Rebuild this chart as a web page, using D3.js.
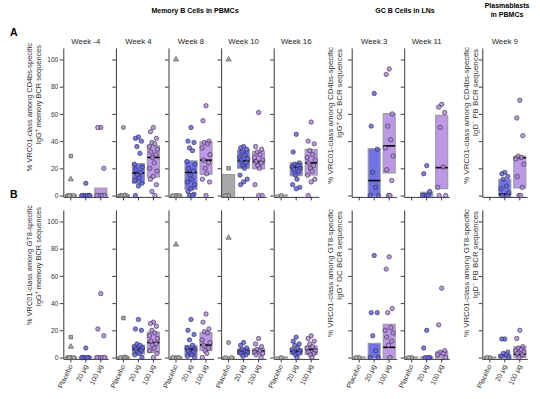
<!DOCTYPE html>
<html>
<head>
<meta charset="utf-8">
<script src="https://cdn.jsdelivr.net/npm/d3@7"></script>
<style>
body{margin:0;background:#fff}
svg{font-family:"Liberation Sans",Arial,sans-serif}
</style>
</head>
<body>
<div class="chart"></div>
<script>
// categories
const groups = ["Placebo", "20 μg", "100 μg"];
const weeks = ["Week -4", "Week 4", "Week 8", "Week 10", "Week 16", "Week 3", "Week 11", "Week 9"];
const yTicks = [0, 20, 40, 60, 80, 100];

// A: CD4bs-specific, one entry per panel (week)
const cd4bsPlaceboDot = [[0,0,0,0],[50,0,0],[0,0],[0,0],[0],[],[],[]];
const cd4bsPlaceboSq  = [[29],[0],[0],[20],[],[],[],[]];
const cd4bsPlaceboTri = [[12],[0],[100],[100],[],[],[],[]];
const cd4bs20 = [
  [9,0,0,0,0,0,0],
  [43,42,40,36,31,23,21,19,17,15,13,11,9,7,0],
  [50,40,39,35,33,25,23,20,18,15,12,10,8,5,3,1,0,0],
  [36,35,34,32,30,28,27,26,24,22,20,15,12,10,8],
  [45,32,24,23,22,21,20,19,18,15,12,8,6,5],
  [75,51,34,17,6,0,0],
  [22,16,3,0,0,0],
  [17,16,14,12,7,5,2,0,0]
];
const cd4bs100 = [
  [50,50,20,0,0,0,0],
  [50,47,42,39,38,36,34,32,30,28,24,20,18,14,12,8,3,0],
  [66,55,40,39,38,35,30,26,24,20,16,12,10,0],
  [61,36,34,32,30,28,26,25,24,22,20,8,0,0],
  [54,40,38,33,30,28,26,24,22,20,18,15,12,10,0],
  [93,89,60,51,41,35,29,19,11,0,0],
  [67,65,61,50,21,6,0,0],
  [70,57,44,29,28,27,23,14,6,0,0]
];
// [q1, median, q3] for placebo, 20 μg, 100 μg
const cd4bsBox = [
  [[0,0,0],[0,0,0],[0,0,5]],
  [[0,0,0],[9.5,16.5,23],[14,28,36]],
  [[0,0,0],[5,17,25],[16,26,39]],
  [[0,0,15],[20.5,25.5,33],[20,25,32]],
  [[0,0,0],[15,21,23.5],[15.5,24,33.5]],
  [null,[0,11,34],[17,36.5,59.7]],
  [null,[0,0,2],[5.5,20.5,58.5]],
  [null,[0,1,11.5],[6,27.8,28.5]]
];

// B: GT8-specific
const gt8PlaceboDot = [[0,0,0,0],[0,0,0],[0,0,0],[11,0,0],[0],[0,0],[0,0],[0,0]];
const gt8PlaceboSq  = [[15],[29],[],[],[],[],[],[]];
const gt8PlaceboTri = [[8],[0],[83],[88],[],[],[],[]];
const gt820 = [
  [7,0,0,0,0,0],
  [28,21,20,10,9,8,7,6,5,4,3,2,0],
  [28,20,17,13,9,7,6,5,4,3,2,1,0],
  [11,9,7,6,5,4,4,3,2,1],
  [15,12,10,9,7,6,5,4,3,2,0],
  [75,33,33,16,5,0,0],
  [20,7,0,0,0],
  [13.6,13.6,4,3,2,1,0]
];
const gt8100 = [
  [47,21,16,0,0,0,0],
  [26,25,23,20,18,16,14,12,10,9,7,5,3,0],
  [32,26,21,19,18,13,11,9,7,5,3,0],
  [14,10,8,6,5,4,3,2,0],
  [16,14,12,10,8,7,5,4,3,2,0],
  [74,65,36,33,22,20,18,15,12,9,0],
  [51,24,5,4,3,2,0],
  [20,14,8,7,6,5,4,3,2,0]
];
const gt8Box = [
  [[0,0,0],[0,0,0],[0,0,0]],
  [[0,0,0],[3,6,8.7],[4.3,11,18.2]],
  [[0,0,0],[1.8,6,8.5],[5.5,9.2,17.8]],
  [[0,0,0],[2.6,4.8,6],[2.6,4.9,6]],
  [[0,0,0],[2.6,4.5,6],[2.6,6,8]],
  [[0,0,0],[0,0,10],[0,7.5,24]],
  [[0,0,0],[0,0,0],[0,0,3.8]],
  [[0,0,0],[0,0.5,1.8],[0.5,2.4,7.5]]
];

const W = 540, H = 399;
const svg = d3.select(".chart").append("svg")
    .attr("width", W)
    .attr("height", H);

const panelLeft = [0,1,2,3,4].map(i => 63.3 + i * 52.6).concat([351.7, 404.2, 482.3]);
const panelW = 45;
const boxW = 12;
const ptFill = ["#a9a9a9", "#6464f0", "#b488e8"];
const boxFill = ["#a9a9a9", "#7272e8", "#bc98e6"];
const jit = [0, -3, 3, -1.5, 1.5, -4, 4, -2.5, 2.5, -0.8, 0.8, -3.6, 3.6];

const rows = [
  {off: 0, letter: "A", spec: "CD4bs", dot: cd4bsPlaceboDot, sq: cd4bsPlaceboSq, tri: cd4bsPlaceboTri,
   g20: cd4bs20, g100: cd4bs100, box: cd4bsBox, ticks: false},
  {off: 162, letter: "B", spec: "GT8", dot: gt8PlaceboDot, sq: gt8PlaceboSq, tri: gt8PlaceboTri,
   g20: gt820, g100: gt8100, box: gt8Box, ticks: true}
];

// header titles
svg.append("text").attr("x", 195).attr("y", 13).attr("text-anchor", "middle")
    .attr("font-size", 7).attr("font-weight", "bold").text("Memory B Cells in PBMCs");
svg.append("text").attr("x", 405).attr("y", 13).attr("text-anchor", "middle")
    .attr("font-size", 7).attr("font-weight", "bold").text("GC B Cells in LNs");
svg.append("text").attr("x", 507).attr("y", 8).attr("text-anchor", "middle")
    .attr("font-size", 7).attr("font-weight", "bold").text("Plasmablasts");
svg.append("text").attr("x", 507).attr("y", 17).attr("text-anchor", "middle")
    .attr("font-size", 7).attr("font-weight", "bold").text("in PBMCs");

weeks.forEach(function (w, p) {
    svg.append("text")
        .attr("x", panelLeft[p] + panelW / 2)
        .attr("y", 43.5)
        .attr("text-anchor", "middle")
        .attr("font-size", 7.8)
        .attr("fill", "#222")
        .text(w);
});

rows.forEach(function (row) {
    let g = svg.append("g");
    let y = d3.scaleLinear().domain([-1, 108.5]).range([196.9 + row.off, 47.9 + row.off]);

    g.append("text").attr("x", 10).attr("y", 36 + row.off)
        .attr("font-size", 10.5).attr("font-weight", "bold").text(row.letter);

    // y labels: [baseline x, top y, cell type, font size]
    let labs = [
        [31.5, 43, "memory", 7.4], [332.5, 47, "GC", 7.9], [468.5, 47, "PB", 7.9]
    ];
    labs.forEach(function (l) {
        let cell = l[2] === "PB" ? "IgD" : "IgG";
        let sup = l[2] === "PB" ? "\u2212" : "+";
        g.append("text")
            .attr("transform", "translate(" + l[0] + "," + (l[1] + row.off) + ") rotate(-90)")
            .attr("text-anchor", "end")
            .attr("font-size", l[3])
            .attr("fill", "#333")
            .text("% VRC01-class among " + row.spec + "-specific");
        let t2 = g.append("text")
            .attr("transform", "translate(" + (l[0] + 9.5) + "," + (l[1] + 2 + row.off) + ") rotate(-90)")
            .attr("text-anchor", "end")
            .attr("font-size", l[3])
            .attr("fill", "#333");
        t2.append("tspan").text(cell);
        t2.append("tspan").attr("dy", -2.6).attr("font-size", 5.2).text(sup);
        t2.append("tspan").attr("dy", 2.6).text(" " + l[2] + " BCR sequences");
    });

    weeks.forEach(function (w, p) {
        let x0 = panelLeft[p];
        let x = d3.scaleBand().domain(groups).range([x0, x0 + panelW]);
        let pg = g.append("g");

        // y axis
        let ya = pg.append("g")
            .attr("transform", "translate(" + x0 + ",0)")
            .call(d3.axisLeft(y).tickValues(yTicks).tickSize(3.5).tickSizeOuter(0)
                .tickFormat(p === 0 ? d3.format("d") : ""));
        // x axis
        let xa = pg.append("g")
            .attr("transform", "translate(0," + y(-1) + ")")
            .call(d3.axisBottom(x).tickSize(3.5).tickSizeOuter(0).tickFormat(""));
        [ya, xa].forEach(function (a) {
            a.selectAll("path, line").attr("stroke", "#222").attr("stroke-width", 0.9);
            a.selectAll("text").attr("font-size", 6.6).attr("fill", "#333")
                .attr("font-family", "Liberation Sans, Arial, sans-serif");
        });
        ya.selectAll("text").attr("x", -5);

        if (row.ticks) {
            groups.forEach(function (gr) {
                let cx = x(gr) + x.bandwidth() / 2;
                pg.append("text")
                    .attr("transform", "translate(" + (cx + 2) + "," + (y(-1) + 7) + ") rotate(-65)")
                    .attr("text-anchor", "end")
                    .attr("font-size", 7)
                    .attr("fill", "#333")
                    .text(gr);
            });
        }

        // boxes
        row.box[p].forEach(function (b, gi) {
            if (!b) return;
            let cx = x(groups[gi]) + x.bandwidth() / 2;
            let top = y(b[2]), bot = y(b[0]);
            pg.append("rect")
                .attr("x", cx - boxW / 2)
                .attr("y", top - 0.6)
                .attr("width", boxW)
                .attr("height", Math.max(bot - top, 0) + 1.2)
                .attr("fill", boxFill[gi])
                .attr("stroke", "#999")
                .attr("stroke-width", 1.1);
            if (b[1] > 0.6) {
                pg.append("line")
                    .attr("x1", cx - boxW / 2).attr("x2", cx + boxW / 2)
                    .attr("y1", y(b[1])).attr("y2", y(b[1]))
                    .attr("stroke", "#000").attr("stroke-width", 1.6);
            }
        });

        // placebo markers
        let cp = x(groups[0]) + x.bandwidth() / 2;
        let k = 0;
        [[row.dot[p], d3.symbolCircle, 14], [row.sq[p], d3.symbolSquare, 13], [row.tri[p], d3.symbolTriangle, 12]]
            .forEach(function (s) {
                s[0].forEach(function (v) {
                    pg.append("path")
                        .attr("d", d3.symbol().type(s[1]).size(s[2]))
                        .attr("transform", "translate(" + (cp + (v === 0 ? jit[k % jit.length] : 0)) + "," + y(v) + ")")
                        .attr("fill", ptFill[0])
                        .attr("stroke", "#444")
                        .attr("stroke-width", 0.6);
                    k++;
                });
            });

        // 20 and 100 μg points
        [row.g20[p], row.g100[p]].forEach(function (vals, j) {
            let gi = j + 1;
            let cx = x(groups[gi]) + x.bandwidth() / 2;
            pg.selectAll(null).data(vals).enter().append("circle")
                .attr("cx", (d, i) => cx + jit[i % jit.length])
                .attr("cy", d => y(d))
                .attr("r", 2.2)
                .attr("fill", ptFill[gi])
                .attr("fill-opacity", 0.85)
                .attr("stroke", "#2a2a2a")
                .attr("stroke-width", 0.6);
        });
    });
});
</script>
</body>
</html>
